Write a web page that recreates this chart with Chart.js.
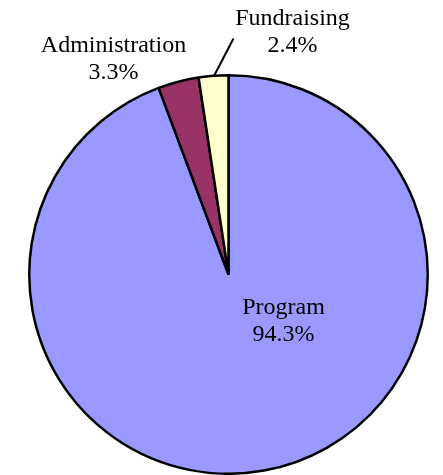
<!DOCTYPE html>
<html>
<head>
<meta charset="utf-8">
<script src="https://cdn.jsdelivr.net/npm/chart.js@4"></script>
<style>
  html, body { margin: 0; padding: 0; background: #fff; }
  #wrap { width: 443px; height: 475px; }
</style>
</head>
<body>
<div id="wrap"><canvas id="pie"></canvas></div>
<script>
// data
var categories = ["Program", "Administration", "Fundraising"];
var shares = [94.3, 3.3, 2.4];
var sliceColors = ["#9999FF", "#993366", "#FFFFCC"];

// label offsets from pie centre (px), one per category
var labelOffsets = [[55, 33], [-115, -229], [64, -256]];

var labelPlugin = {
  id: "pieLabels",
  afterDraw: function (chart) {
    var ctx = chart.ctx;
    var arc = chart.getDatasetMeta(0).data[0];
    var cx = arc.x, cy = arc.y;
    ctx.save();
    ctx.font = "24px 'Liberation Serif', 'Times New Roman', serif";
    ctx.fillStyle = "#000";
    ctx.textAlign = "center";
    ctx.textBaseline = "middle";
    for (var i = 0; i < categories.length; i++) {
      var x = cx + labelOffsets[i][0];
      var y = cy + labelOffsets[i][1];
      ctx.fillText(categories[i], x, y);
      ctx.fillText(shares[i].toFixed(1) + "%", x, y + 27);
    }
    // leader line for the small Fundraising slice
    var small = chart.getDatasetMeta(0).data[2];
    var mid = (small.startAngle + small.endAngle) / 2;
    ctx.strokeStyle = "#000";
    ctx.lineWidth = 2;
    ctx.beginPath();
    ctx.moveTo(cx + Math.cos(mid) * (small.outerRadius - 1), cy + Math.sin(mid) * (small.outerRadius - 1));
    ctx.lineTo(cx + 5, cy - 236);
    ctx.stroke();
    ctx.restore();
  }
};

new Chart(document.getElementById("pie"), {
  type: "pie",
  data: {
    labels: categories,
    datasets: [{
      data: shares,
      backgroundColor: sliceColors,
      borderColor: "#000",
      borderWidth: 2.5
    }]
  },
  options: {
    responsive: true,
    maintainAspectRatio: false,
    animation: false,
    layout: { padding: { top: 74, bottom: 0, left: 27, right: 13 } },
    plugins: {
      legend: { display: false },
      tooltip: { enabled: false }
    }
  },
  plugins: [labelPlugin]
});
</script>
</body>
</html>
